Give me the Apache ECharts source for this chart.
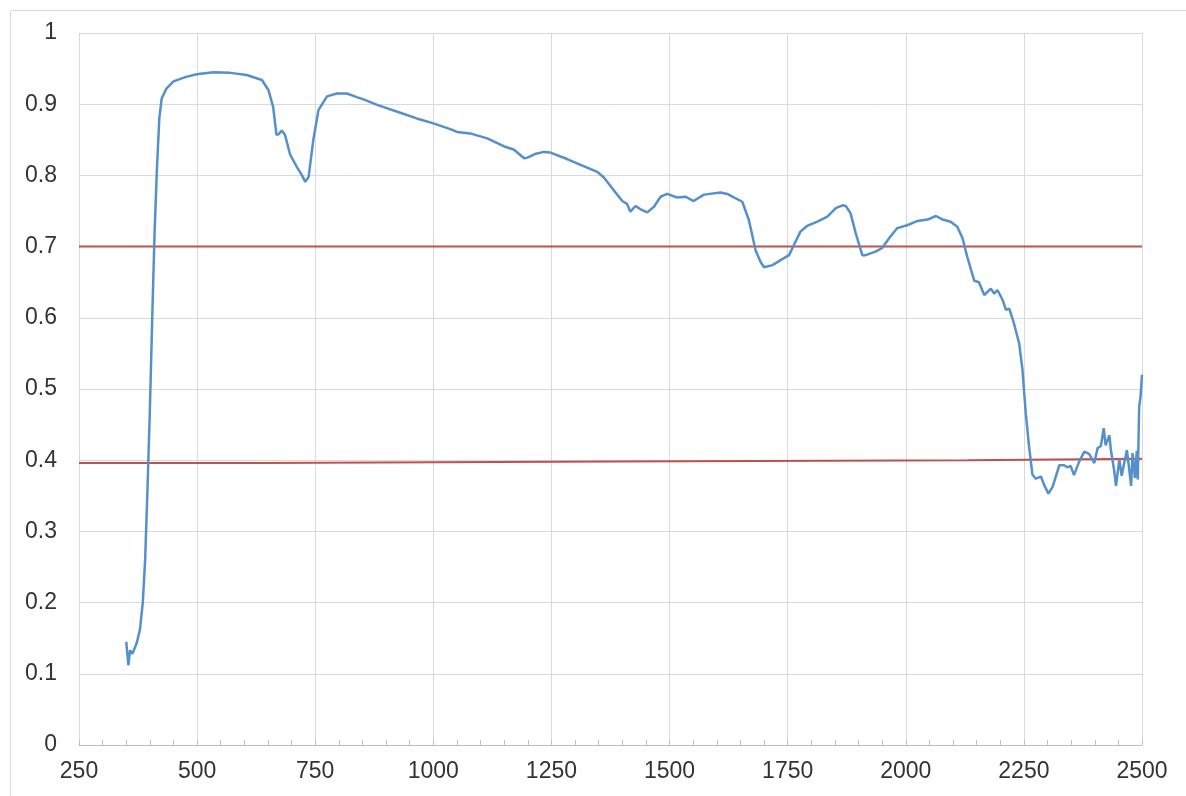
<!DOCTYPE html>
<html>
<head>
<meta charset="utf-8">
<script src="https://cdn.jsdelivr.net/npm/echarts@6/dist/echarts.min.js"></script>
<style>
html,body{margin:0;padding:0;background:#fff;}
#chart{width:1186px;height:796px;}
</style>
</head>
<body>
<div id="chart"></div>
<script>
// Wavelength (nm) and reflectance of the spectrum
var wavelengths = [350,354.5,358,363,372,379,385,390,395,400,405,410,415,420,425,435,450,475,499,535,570,605,637,651,661,668,673,679,686,697,711,722,729,736,746,757,775,796,817,838,855,881,930,965,1000,1036,1050,1078,1114,1149,1171,1192,1199,1215,1234,1248,1283,1318,1347,1361,1382,1400,1410,1417,1428,1440,1453,1467,1481,1495,1516,1534,1551,1573,1608,1622,1636,1654,1668,1682,1693,1700,1718,1735,1753,1763,1777,1791,1813,1834,1852,1866,1873,1883,1894,1908,1915,1936,1950,1965,1982,2003,2025,2046,2064,2078,2095,2109,2120,2130,2145,2155,2166,2180,2187,2194,2205,2212,2219,2229,2240,2247,2254,2261,2268,2275,2286,2293,2302,2311,2325,2335,2342,2349,2356,2367,2378,2388,2399,2406,2413,2419,2423,2431,2434,2441,2445,2452,2457,2462,2468,2473,2477,2480,2485,2489,2491,2494,2497,2500];
var reflectance = [0.145,0.112,0.133,0.128,0.143,0.162,0.2,0.26,0.36,0.47,0.6,0.72,0.81,0.88,0.908,0.922,0.932,0.938,0.942,0.945,0.944,0.941,0.934,0.92,0.896,0.857,0.858,0.863,0.857,0.829,0.812,0.8,0.791,0.798,0.85,0.892,0.911,0.915,0.915,0.91,0.906,0.899,0.888,0.88,0.873,0.865,0.861,0.859,0.852,0.841,0.836,0.824,0.825,0.83,0.833,0.832,0.823,0.813,0.805,0.797,0.779,0.764,0.76,0.749,0.757,0.752,0.748,0.756,0.77,0.774,0.769,0.77,0.764,0.773,0.776,0.774,0.769,0.763,0.737,0.695,0.678,0.671,0.674,0.681,0.688,0.702,0.721,0.729,0.735,0.742,0.754,0.758,0.757,0.747,0.719,0.688,0.688,0.693,0.698,0.712,0.726,0.73,0.736,0.738,0.743,0.738,0.735,0.728,0.712,0.686,0.652,0.65,0.632,0.641,0.634,0.639,0.625,0.611,0.613,0.592,0.564,0.527,0.466,0.419,0.38,0.374,0.377,0.365,0.353,0.363,0.393,0.393,0.39,0.392,0.379,0.398,0.412,0.409,0.396,0.417,0.42,0.445,0.421,0.435,0.415,0.386,0.364,0.401,0.378,0.395,0.414,0.387,0.364,0.41,0.375,0.413,0.373,0.475,0.49,0.52];

// Upper threshold line
var upperX = [250, 2500];
var upperY = [0.7, 0.7];
// Lower threshold line (stepped)
var lowerX = [250, 629, 629, 1386, 1386, 2131, 2131, 2500];
var lowerY = [0.396, 0.396, 0.398, 0.398, 0.400, 0.400, 0.402, 0.402];

// Axis ticks
var xMin = 250, xMax = 2500, xStep = 250;
var yMin = 0, yMax = 1, yStep = 0.1;

function pairs(xs, ys){ return xs.map(function(x,i){ return [x, ys[i]]; }); }

var chart = echarts.init(document.getElementById('chart'), null, {renderer:'canvas'});
var labelFont = {fontFamily:'Liberation Sans, Arial, sans-serif', fontSize:23, color:'#333'};
chart.setOption({
  animation:false,
  backgroundColor:'#fff',
  graphic:[{type:'rect', shape:{x:10.5,y:10.5,width:1200,height:800}, style:{fill:'none', stroke:'#d9d9d9', lineWidth:1}, silent:true}],
  grid:{left:79, right:44, top:33, bottom:51, containLabel:false},
  xAxis:{
    type:'value', min:xMin, max:xMax, interval:xStep,
    axisLine:{show:true, lineStyle:{color:'#bfbfbf', width:1}},
    axisTick:{show:true, inside:true, length:5, lineStyle:{color:'#bfbfbf'}},
    minorTick:{show:true, splitNumber:5, length:5, lineStyle:{color:'#bfbfbf'}},
    splitLine:{show:true, lineStyle:{color:'#d9d9d9', width:1}},
    axisLabel:Object.assign({margin:15, formatter:function(v){ return String(v); }}, labelFont)
  },
  yAxis:{
    type:'value', min:yMin, max:yMax, interval:yStep,
    axisLine:{show:false}, axisTick:{show:false},
    splitLine:{show:true, lineStyle:{color:'#d9d9d9', width:1}},
    axisLabel:Object.assign({margin:22, formatter:function(v){ return String(Math.round(v*10)/10); }}, labelFont)
  },
  series:[
    {type:'line', data:pairs(upperX, upperY), symbol:'none', lineStyle:{color:'#c0504d', width:2}, z:3},
    {type:'line', data:pairs(lowerX, lowerY), symbol:'none', lineStyle:{color:'#c0504d', width:2}, z:3},
    {type:'line', data:pairs(wavelengths, reflectance), symbol:'none', lineStyle:{color:'#5590cc', width:2.5}, z:4}
  ]
});
</script>
</body>
</html>
